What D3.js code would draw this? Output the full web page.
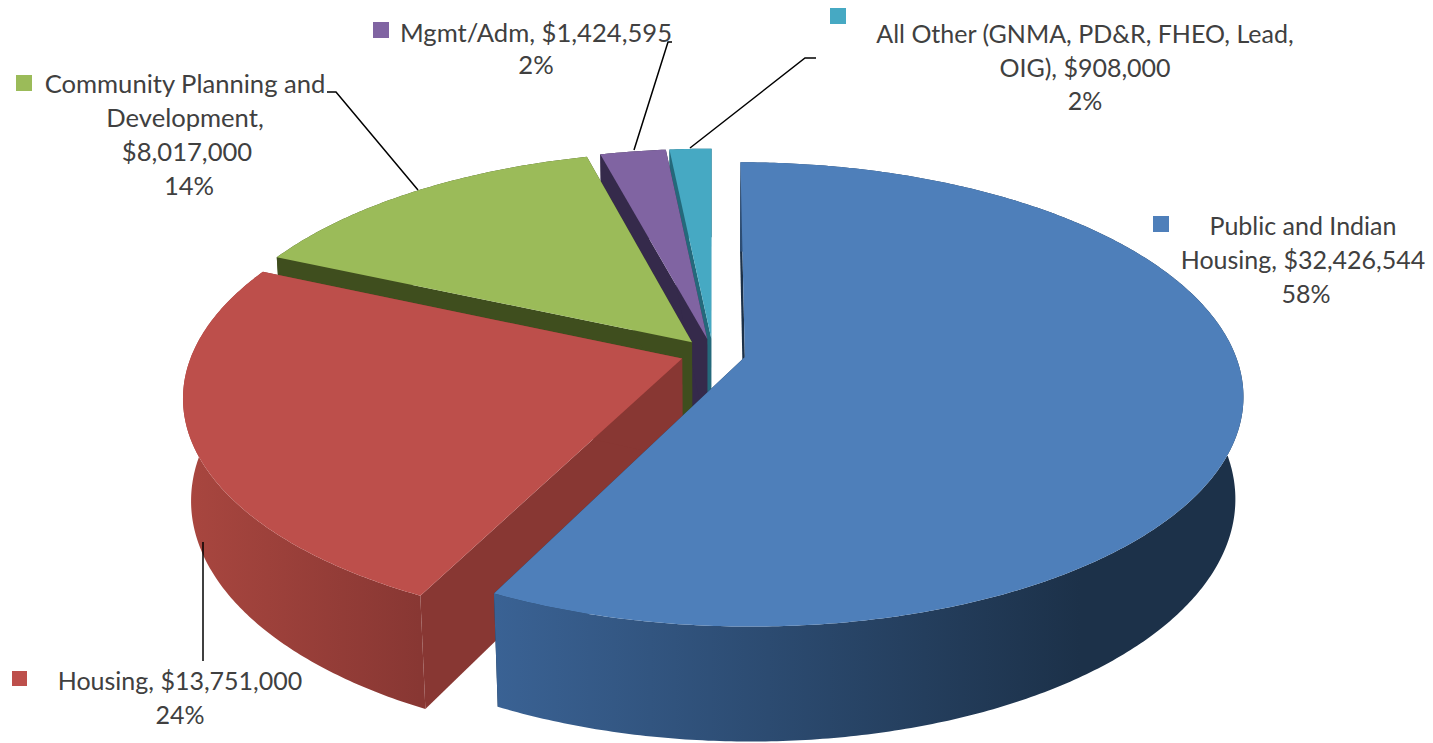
<!DOCTYPE html>
<html lang="en">
<head>
    <meta charset="UTF-8">
    <script src="https://d3js.org/d3.v7.min.js"></script>
    <style>
        html, body { margin: 0; padding: 0; background: #fff; overflow: hidden; }
        text { font-family: Lato, 'Open Sans', sans-serif; fill: #404040; text-anchor: middle; }
    </style>
</head>
<body>
    <svg id="chart" width="1433" height="743"></svg>
    <script>
        // chart values
        const categories = ['Public and Indian Housing', 'Housing', 'Community Planning and Development', 'Mgmt/Adm', 'All Other (GNMA, PD&R, FHEO, Lead, OIG)'];
        const values = [32426544, 13751000, 8017000, 1424595, 908000];
        const percents = ['58%', '24%', '14%', '2%', '2%'];

        // slice colours
        const topColors = ['#4e7fba', '#bd4f4b', '#9bbb59', '#8064a2', '#46a9c3'];
        const wallLeft = ['#3a6294', '#a8463f', '#3f4e1e', '#352a4b', '#24697b'];
        const wallRight = ['#1c3149', '#883733', '#3f4e1e', '#352a4b', '#24697b'];

        // label layout, one entry per slice
        const labelLines = [
            ['Public and Indian', 'Housing, $32,426,544', percents[0]],
            ['Housing, $13,751,000', percents[1]],
            ['Community Planning and', 'Development,', '$8,017,000', percents[2]],
            ['Mgmt/Adm, $1,424,595', percents[3]],
            ['All Other (GNMA, PD&R, FHEO, Lead,', 'OIG), $908,000', percents[4]]
        ];
        const labelX = [[1303, 1303, 1306], [180, 180], [185, 185, 187, 189], [536, 536], [1085, 1085, 1085]];
        const labelY = [[235, 269, 303], [690, 724], [93, 127, 161, 195], [42, 74], [43, 77, 110]];
        const labelSize = [25, 25, 25.6, 25.6, 25];
        const swatches = [[1153, 216, 16], [12, 671, 15], [16, 75, 16], [373, 22, 16], [830, 8, 16]];
        const leaders = [
            [],
            [[203, 542], [203, 661]],
            [[327, 92], [336, 92], [418, 190]],
            [[672, 42], [668, 42], [634, 150]],
            [[816, 58], [805, 58], [690, 148]]
        ];

        // pie geometry
        const explode = 0.0666;
        const perspective = 0.161;  // how much nearer points grow
        const depthShrink = 0.015;  // bottom plane is further away
        const radiusX = 490, radiusY = 225, wallHeight = 102;

        const x = d3.scaleLinear().domain([-1, 1]).range([713 - radiusX, 713 + radiusX]);
        const y = d3.scaleLinear().domain([-1, 1]).range([353.5 - radiusY, 353.5 + radiusY]);

        const svg = d3.select('#chart');
        const defs = svg.append('defs');
        const slices = d3.pie().sort(null).value(d => d)(values);
        const line = d3.line();

        // u right, v toward the viewer, z 0 on top and 1 at the bottom
        function project(u, v, z) {
            const w = 1 - perspective * v + depthShrink * z;
            return [x(u / w), y(v / w) + wallHeight * z / w];
        }

        function slicePoints(d) {
            const mid = (d.startAngle + d.endAngle) / 2;
            const cu = explode * Math.sin(mid), cv = -explode * Math.cos(mid);
            const steps = Math.ceil((d.endAngle - d.startAngle) / 0.01);
            const rim = d3.range(steps + 1).map(i => {
                const a = d.startAngle + (d.endAngle - d.startAngle) * i / steps;
                return [cu + Math.sin(a), cv - Math.cos(a)];
            });
            return { center: [cu, cv], rim };
        }

        const at = z => p => project(p[0], p[1], z);

        slices.forEach((d, i) => {
            const grad = defs.append('linearGradient')
                .attr('id', 'wall' + i)
                .attr('gradientUnits', 'userSpaceOnUse')
                .attr('x1', i === 1 ? 190 : 495).attr('x2', i === 1 ? 420 : 1080)
                .attr('y1', 0).attr('y2', 0);
            grad.append('stop').attr('offset', 0).attr('stop-color', wallLeft[i]);
            grad.append('stop').attr('offset', 1).attr('stop-color', wallRight[i]);
        });

        // back slices first, blue last
        d3.range(slices.length - 1, -1, -1).forEach(i => {
            const { center, rim } = slicePoints(slices[i]);
            const g = svg.append('g').attr('class', 'slice');

            // radial walls
            [rim[0], rim[rim.length - 1]].forEach(edge => {
                g.append('path')
                    .attr('d', line([center, edge].map(at(0)).concat([edge, center].map(at(1)))) + 'Z')
                    .attr('fill', wallRight[i]);
            });
            // outer wall
            g.append('path')
                .attr('d', line(rim.map(at(0)).concat(rim.slice().reverse().map(at(1)))) + 'Z')
                .attr('fill', `url(#wall${i})`);
            // top face
            g.append('path')
                .attr('d', line([center].concat(rim).map(at(0))) + 'Z')
                .attr('fill', topColors[i]);
        });

        // leader lines
        leaders.forEach(pts => {
            if (!pts.length) return;
            svg.append('path').attr('d', line(pts))
                .attr('fill', 'none').attr('stroke', '#000').attr('stroke-width', 1.5);
        });

        // labels
        labelLines.forEach((lines, i) => {
            svg.append('rect')
                .attr('x', swatches[i][0]).attr('y', swatches[i][1])
                .attr('width', swatches[i][2]).attr('height', swatches[i][2])
                .attr('fill', topColors[i]);
            lines.forEach((t, j) => {
                svg.append('text')
                    .attr('x', labelX[i][j]).attr('y', labelY[i][j])
                    .attr('font-size', labelSize[i])
                    .text(t);
            });
        });
    </script>
</body>
</html>
